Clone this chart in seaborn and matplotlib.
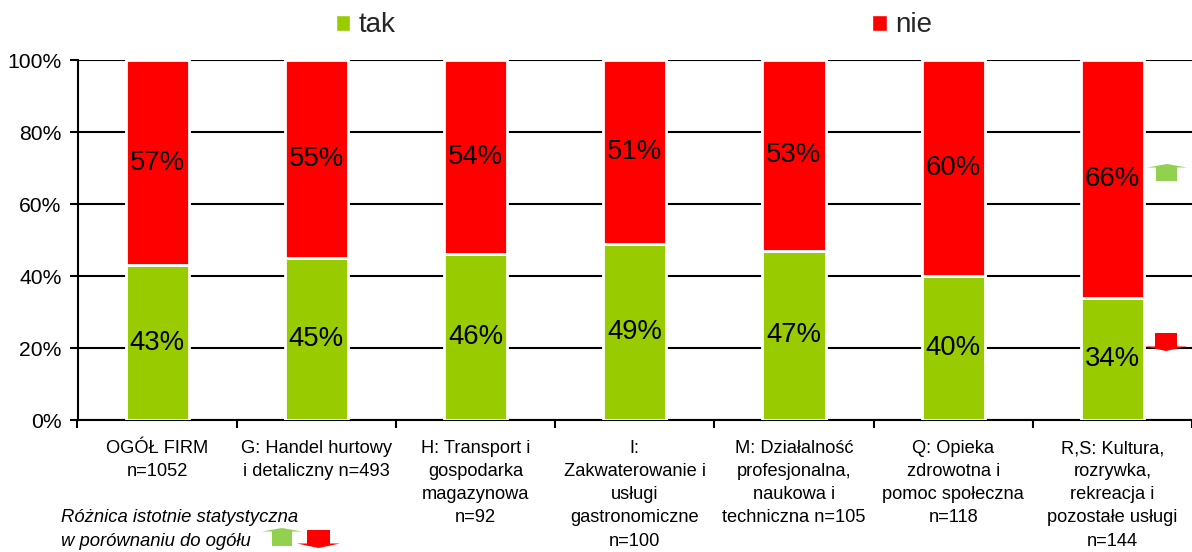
import numpy as np
import pandas as pd
import matplotlib
matplotlib.use("Agg")
import matplotlib.pyplot as plt
from matplotlib.patches import Patch, Polygon
import seaborn as sns

categories = [
    "OGÓŁ FIRM\nn=1052",
    "G: Handel hurtowy\ni detaliczny n=493",
    "H: Transport i\ngospodarka\nmagazynowa\nn=92",
    "I:\nZakwaterowanie i\nusługi\ngastronomiczne\nn=100",
    "M: Działalność\nprofesjonalna,\nnaukowa i\ntechniczna n=105",
    "Q: Opieka\nzdrowotna i\npomoc społeczna\nn=118",
    "R,S: Kultura,\nrozrywka,\nrekreacja i\npozostałe usługi\nn=144",
]
tak = [43, 45, 46, 49, 47, 40, 34]
nie = [57, 55, 54, 51, 53, 60, 66]
y_ticks = [0, 20, 40, 60, 80, 100]

GREEN = "#99cc00"
RED = "#ff0000"
ARROW_GREEN = "#92d050"

sns.set_theme(style="white")
plt.rcParams["font.family"] = ["Liberation Sans", "DejaVu Sans"]

W, H = 1192, 552
fig = plt.figure(figsize=(W / 100, H / 100), dpi=100)
ax = fig.add_axes([77.5 / W, 1 - 420 / H, (W - 77.5) / W, 360 / H])

df = pd.DataFrame({"kategoria": categories, "tak": tak, "nie": nie})
edge = dict(edgecolor="white", linewidth=2.0, width=0.397, zorder=3)
sns.barplot(data=df, x="kategoria", y="tak", color=GREEN, saturation=1, ax=ax, **edge)
sns.barplot(data=df, x="kategoria", y="nie", color=RED, saturation=1,
            bottom=df["tak"].to_numpy(), ax=ax, **edge)

for container, values in zip(ax.containers, (tak, nie)):
    ax.bar_label(container, labels=[f"{v}%" for v in values], label_type="center",
                 fontsize=19.8, color="black", zorder=4)

ax.set_xlim(-0.5, len(categories) - 0.5)
ax.set_ylim(0, 100)
ax.set_xlabel("")
ax.set_ylabel("")
ax.set_yticks(y_ticks)
ax.set_yticklabels([f"{v}%" for v in y_ticks], fontsize=15.2, color="black")
ax.yaxis.grid(True, color="black", linewidth=1.5, zorder=1)
ax.set_axisbelow(True)

# Category names sit between the tick marks, which fall on the category borders
ax.set_xticks(range(len(categories)))
ax.set_xticklabels(categories, fontsize=13.15, color="black", linespacing=1.47, va="top")
ax.set_xticks(np.arange(-0.5, len(categories)), minor=True)
ax.tick_params(axis="x", which="major", length=0, pad=14.5)
ax.tick_params(axis="x", which="minor", length=6, width=1.5, color="black", bottom=True)
ax.tick_params(axis="y", length=6, width=1.5, color="black", left=True, pad=5.5)

sns.despine(ax=ax, top=True, right=True)
for side in ("left", "bottom"):
    ax.spines[side].set_color("black")
    ax.spines[side].set_linewidth(1.5)

fig.legend(
    handles=[Patch(facecolor=GREEN, label="tak"), Patch(facecolor=RED, label="nie")],
    ncol=2, frameon=False, fontsize=20, loc="center left",
    bbox_to_anchor=(336 / W, 1 - 25.5 / H), borderpad=0, borderaxespad=0,
    handlelength=0.52, handleheight=0.52, handletextpad=0.3, columnspacing=17.15,
)


def block_arrow(left, right, shaft_left, shaft_right, tail_y, neck_y, tip_y, color):
    """Flat block arrow in pixel positions measured from the top left corner."""
    mid = (left + right) / 2
    pts = [(shaft_left, tail_y), (shaft_right, tail_y), (shaft_right, neck_y),
           (right, neck_y), (mid, tip_y), (left, neck_y), (shaft_left, neck_y)]
    fig.add_artist(Polygon([(x / W, 1 - y / H) for x, y in pts], closed=True,
                           facecolor=color, edgecolor="none",
                           transform=fig.transFigure, zorder=5))


# Significance markers beside the last column
block_arrow(1147, 1187, 1156, 1177, 181, 167.5, 164, ARROW_GREEN)
block_arrow(1145, 1187, 1155, 1177, 333, 346.5, 351, RED)

# Key for the significance markers
fig.text(61 / W, 1 - 517 / H, "Różnica istotnie statystyczna", style="italic",
         fontsize=13.3, color="black", va="center")
fig.text(61 / W, 1 - 541 / H, "w porównaniu do ogółu", style="italic",
         fontsize=13.3, color="black", va="center")
block_arrow(262, 302, 272, 292, 546, 531.5, 528, ARROW_GREEN)
block_arrow(297, 340, 307, 330, 530, 543.5, 548, RED)

fig.savefig("out.png", dpi=100, facecolor="white")
